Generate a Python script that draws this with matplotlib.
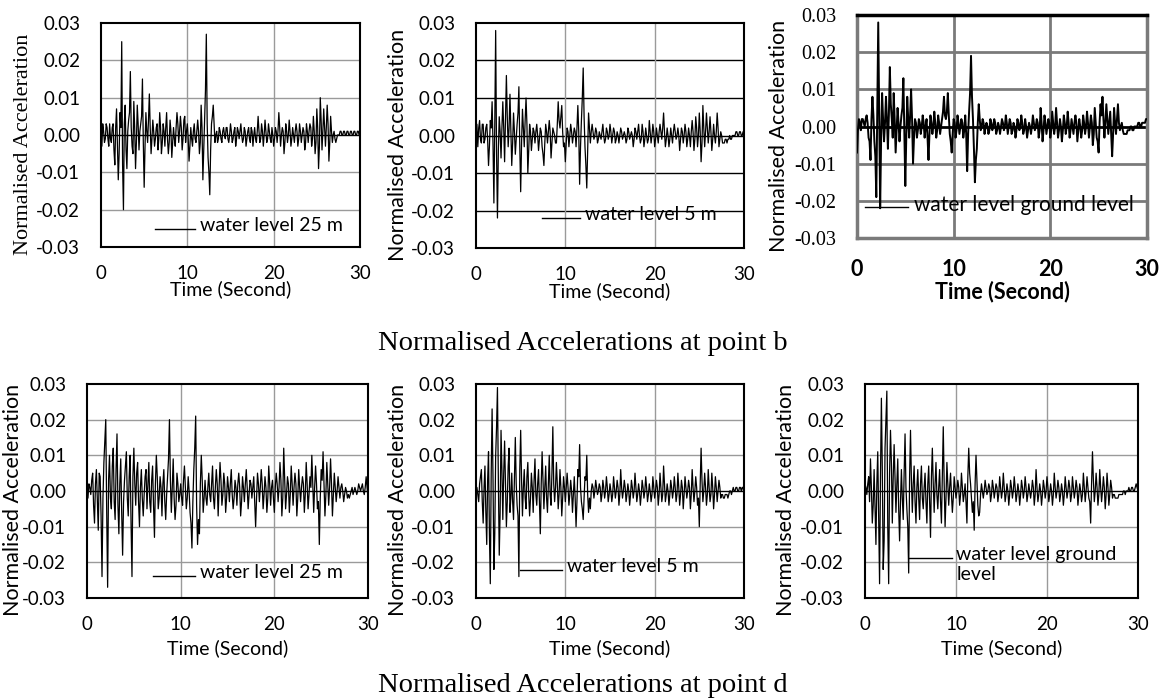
import numpy as np
import matplotlib
matplotlib.use("Agg")
import matplotlib.pyplot as plt

# Normalised accelerations, one value every 0.1 s (in units of 0.001)
dt = 0.1

# point b
acc_b_25 = [0, -3, 3, 1, -2, -1, 3, 2, -1, -3,
            3, -1, -2, 2, 3, -4, -8, 2, 7, -3,
            -12, -5, 6, 2, 25, -8, -20, 3, 8, -4,
            -9, 1, 4, 6, 17, 2, -3, -5, 9, 2,
            -9, -2, 8, 3, -4, 1, 3, 5, 15, -2,
            -14, -3, 6, 1, -2, 4, 11, 2, -5, -1,
            4, 1, -3, -1, 2, 3, -4, -1, 6, 2,
            -5, -2, 3, 1, -3, 2, 6, -1, -5, -2,
            4, 1, -6, -2, 2, -1, -3, 2, 6, 3,
            -2, 1, 5, 2, -4, -1, 4, 5, -2, 1,
            3, -1, -7, -3, 2, -1, -3, 1, 3, -1,
            -2, 1, 4, 1, -5, -2, 8, 2, -12, -4,
            4, 12, 27, 3, -6, -10, -16, -4, 3, 5,
            8, 3, -2, 0, 1, -2, -1, 2, 1, -1,
            -2, 1, 2, 0, -1, 2, 2, -1, -2, 0,
            3, 1, -2, -1, 1, 2, -3, -1, 2, 1,
            -1, 1, 3, 0, -2, -1, 2, 1, -3, -1,
            1, 2, -1, -2, 2, 1, -3, 0, 2, -1,
            -2, 1, 5, 1, -2, -1, 3, 1, -3, 0,
            4, 1, -2, -1, 3, 1, -1, -2, 2, 0,
            -3, -1, 2, 1, -2, 1, 6, 2, -3, 0,
            2, 1, -5, -2, 3, 1, -2, 0, 4, 1,
            -3, -1, 2, 0, -2, 1, 3, 1, -3, -1,
            3, 1, -2, 0, 2, 1, -4, -2, 3, 1,
            -2, 1, 3, 2, -3, -1, 5, 1, -5, -2,
            7, 2, -9, -3, 10, 4, -4, 1, 7, 2,
            -3, 2, 8, 3, -7, -2, 5, 1, -2, 0,
            1, -1, -2, -1, 0, 0, 0, 1, 1, 0,
            0, 1, 1, 0, 0, 1, 1, 0, 0, 1,
            1, 0, 0, 1, 1, 0, 0, 1, 1, 0,
            0]
acc_b_5 = [0, 3, -3, 2, 4, -1, -2, 3, 3, -2,
           -1, 2, 3, -1, -8, -3, 4, 2, 9, -2,
           -18, 3, 28, -5, -22, -4, 5, 1, -6, 2,
           9, 2, -7, 4, 16, 5, -3, 2, 11, 1,
           -8, -2, 6, 1, -5, -1, 3, 6, 13, -3,
           -15, -2, 7, 2, -3, 4, 10, 3, -10, -4,
           3, 1, -4, -1, 2, 1, -2, 1, 3, 0,
           -4, -1, 2, 1, -3, -5, -8, -2, 3, 1,
           -2, 1, 4, 1, -6, -2, 2, 1, 0, -2,
           -2, 3, 9, 4, 2, 5, 8, 1, -3, -2,
           -7, -2, 2, 1, -3, 0, 3, 1, -2, 0,
           2, 1, -3, 2, 8, 1, -13, -3, 4, 10,
           18, 5, -3, -8, -14, -4, 6, 2, -2, 1,
           3, 1, -1, 0, 2, 1, -2, -1, 1, 0,
           -1, 1, 3, 0, -2, -1, 2, 1, -1, 0,
           3, 1, -2, 0, 2, 1, -2, -1, 1, 0,
           -2, 0, 2, 1, -1, 0, 1, 0, -2, -1,
           2, 1, -1, 0, 1, 0, -3, -1, 2, 1,
           -1, 1, 3, 0, -2, -1, 3, 1, -3, -1,
           2, 0, -2, -1, 4, 1, -2, 0, 3, 1,
           -3, -1, 2, 0, -2, 1, 3, 1, -1, 2,
           6, 1, -3, -1, 2, 0, -3, -1, 2, 0,
           -2, 1, 3, 1, -1, 0, 2, 0, -4, -1,
           2, 1, -2, 0, 3, 1, -3, -1, 2, 0,
           -3, 1, 4, 1, -4, -1, 5, 2, -3, 0,
           6, 1, -7, -2, 8, 2, -3, 1, 6, 2,
           -2, 1, 5, 1, -4, -1, 3, 0, -2, 1,
           6, 2, -3, -1, 1, 0, -2, -2, -2, -1,
           -1, -2, -1, -1, 0, -1, -1, 0, 0, 0,
           0, 1, 1, 0, 0, 1, 1, 0, 0, 1,
           1]
acc_b_gl = [-7, -1, 2, 1, -1, 2, 2, 1, 0, 2,
            3, 1, -3, -4, -9, 2, 8, 3, -4, -8,
            -19, 5, 28, 3, -22, -3, 9, 2, -4, 1,
            8, 2, -6, 3, 16, 6, 2, -3, 9, 2,
            -7, -1, 5, 1, -4, 0, 3, 5, 13, -2,
            -16, -3, 8, 2, -3, 3, 10, 2, -10, -3,
            2, 1, -3, -1, 2, 1, -2, 0, 3, 1,
            -3, 0, 2, -3, -9, -2, 3, 1, -2, 0,
            4, 1, -3, -1, 3, 1, -2, 0, 2, 4,
            8, 3, 2, 4, 9, 3, -2, -4, -7, -2,
            2, 1, -3, -1, 3, 1, -2, 0, 2, 1,
            -3, -1, 3, -2, -12, -2, 4, 9, 19, 8,
            2, -6, -15, -9, -6, 1, 6, 2, -1, 0,
            2, 1, -2, 0, 1, 0, -2, -1, 2, 1,
            -1, 0, 2, 1, -2, -1, 1, 0, -2, 0,
            2, 1, -1, 0, 3, 1, -2, 0, 2, 1,
            -2, -1, 1, 0, -3, -1, 2, 1, -1, 0,
            3, 1, -2, -1, 2, 0, -3, -1, 1, 0,
            -2, 0, 3, 1, -1, 0, 2, 1, -3, -1,
            5, 1, -4, -1, 3, 1, -2, 0, 2, 1,
            -3, -1, 4, 1, -2, 0, 5, 1, -3, -1,
            2, 0, -4, -1, 3, 1, -2, 0, 4, 1,
            -3, -1, 2, 0, -2, 1, 3, 1, -4, -1,
            2, 0, -3, -1, 3, 1, -2, 0, 4, 1,
            -3, 0, 3, 1, -5, -2, 5, 1, -3, -4,
            -7, 1, 6, 3, 8, 2, -3, 1, 6, 2,
            -2, 1, 4, -2, -8, -2, 5, 1, -2, 2,
            6, 1, -1, 0, 1, -1, -2, -2, -2, -2,
            -1, -1, -1, 0, 0, -1, -1, 0, 0, 0,
            0, 1, 1, 0, 0, 1, 1, 1, 1, 2,
            2]

# point d
acc_d_25 = [0, -2, 2, 1, -1, 3, 5, -4, -9, 2,
            6, -3, -11, 5, 4, -7, -24, -2, 8, 14,
            20, -6, -27, 3, 10, -2, -5, 7, 12, -3,
            -8, 6, 16, -4, -12, 2, 9, -6, -18, -3,
            3, 7, 11, -2, -7, 4, 10, -9, -24, 4,
            12, 2, -4, 5, 8, -3, -10, 1, 6, -2,
            -7, -1, 4, 6, -5, 2, 8, -3, -6, 3,
            7, -4, -13, 2, 10, 4, -5, -2, 4, 1,
            -7, 2, 6, -3, -8, -1, 4, 9, 20, 3,
            -6, 1, 9, -2, -8, -4, 5, 2, -3, -1,
            2, -2, -4, 3, 7, 1, -5, -2, 4, 0,
            -6, -9, -16, -3, 6, 12, 21, -4, -15, -8,
            -12, 2, 10, 3, -6, -2, 3, -2, -4, 1,
            5, -1, -3, 2, 7, -2, -5, 1, 6, 2,
            -7, 1, 8, 3, -4, -1, 5, 2, -6, -2,
            4, 1, -3, 2, 6, -1, -5, -2, 3, 1,
            -4, 2, 5, 1, -7, -3, 4, 1, -3, 2,
            6, 1, -5, -1, 3, 2, -2, 1, 4, -3,
            -10, -2, 5, 2, -3, 1, 6, 2, -5, -1,
            4, 1, -6, -2, 7, 2, -4, 1, 3, -2,
            -6, 1, 5, 2, -3, 1, 8, 3, -7, -2,
            12, 3, -5, -1, 4, 2, -6, -1, 7, 2,
            -4, 1, 5, 2, -7, -2, 6, 1, -3, 1,
            4, 2, -6, -1, 8, 2, -5, -1, 4, 1,
            10, 2, -6, 1, 7, 2, -5, -3, -15, -2,
            6, 3, 11, 2, -7, -1, 8, 2, -4, 1,
            9, 2, -7, -1, 5, 1, -3, 0, 4, 1,
            -2, 1, 2, 0, -3, -1, 1, 0, -2, -1,
            -2, -1, 0, 1, -1, 0, 1, 0, -1, 0,
            2, 1, 0, 1, 2, 0, -1, 1, 4, 1,
            -2]
acc_d_5 = [0, 1, -1, -3, 2, 4, 6, -3, -9, 1,
           7, -6, -15, 3, 11, -12, -26, 5, 23, 4,
           -22, -12, 10, 18, 29, 3, -18, -6, 17, 6,
           -8, 5, 14, 2, -10, -3, 7, 12, -6, -2,
           5, -3, -8, 4, 15, 2, -4, -7, -24, 6,
           17, 3, -7, 1, 6, -2, -5, 4, 8, -1,
           -7, -2, 5, 1, -6, 3, 9, -1, -4, 2,
           6, -3, -12, 2, 11, 3, -5, 1, 7, -2,
           -6, 2, 10, -1, -4, 5, 18, 2, -3, 1,
           8, 2, -5, -1, 6, 1, -7, -2, 4, 1,
           -3, 1, 5, 1, -4, -1, 3, 0, -6, -1,
           4, -2, -10, -3, 6, 4, 13, 1, -3, -5,
           -8, -2, 4, 3, 10, -1, -6, -2, -5, 0,
           2, 1, -2, 0, 3, 1, -1, 0, 2, 1,
           -3, -1, 3, 1, -2, 0, 4, 1, -3, -1,
           2, 0, -3, -1, 4, 1, -2, 0, 3, 1,
           -4, -1, 6, 1, -2, 0, 3, 1, -3, -1,
           2, 0, -4, -1, 3, 1, -2, 0, 5, 1,
           -3, -1, 2, 0, -4, -1, 3, 1, -2, 0,
           4, 1, -3, -1, 2, 0, -3, -1, 4, 1,
           -2, 0, 3, 1, -4, -1, 5, 1, -3, -1,
           7, 2, -3, -1, 2, 0, -4, -1, 3, 1,
           -2, 0, 4, 1, -3, -1, 5, 1, -4, -1,
           3, 1, -5, -1, 4, 1, -2, 0, 3, 1,
           -5, -1, 6, 1, -3, 0, 4, 1, -4, -2,
           -10, 2, 12, 3, -3, 0, 5, 1, -4, -1,
           6, 1, -3, -1, 5, 1, -5, -1, 4, 1,
           -3, 0, 3, 1, -2, -1, -1, -2, -2, -1,
           -1, -1, -2, -1, 0, 0, -1, 0, 1, 0,
           0, 1, 1, 0, 0, 1, 1, 0, 1, 1,
           -1]
acc_d_gl = [2, 1, -1, 2, 4, -3, 9, 1, -9, -4,
            6, -5, -15, 2, 11, -8, -26, 4, 26, 6,
            -22, -14, 12, 20, 28, -10, -26, 5, 17, 8,
            -9, 4, 13, 3, -6, 2, 9, -5, -14, -3,
            6, -2, -8, 5, 16, 1, -5, -10, -23, 4,
            17, 3, -6, 2, 7, -3, -9, 1, 6, -2,
            -8, 2, 7, -2, -5, 1, 5, -3, -9, 2,
            7, -3, -13, 4, 12, 2, -6, 2, 8, -1,
            -5, 1, 6, -3, -9, 4, 18, 2, -10, -2,
            8, 2, -4, 1, 5, -1, -6, -2, 4, 1,
            -2, 0, 3, 1, -4, -1, 5, 1, -3, -1,
            2, -3, -9, 4, 12, 5, 2, -2, -6, -3,
            -11, 2, 10, 3, -4, -7, -6, -1, 2, 0,
            -2, 0, 3, 1, -1, 0, 2, 1, -3, -1,
            3, 1, -2, 0, 2, 1, -3, -1, 4, 1,
            -2, 0, 5, 1, -3, -1, 2, 0, -4, -1,
            3, 1, -2, 0, 4, 1, -3, -1, 2, 0,
            -4, -1, 3, 1, -2, 0, 4, 1, -3, -1,
            2, 0, -2, 0, 3, 1, -4, -1, 6, 1,
            -3, -1, 2, 0, -4, -1, 3, 1, -2, 0,
            4, 1, -3, -1, 2, 0, -4, -1, 5, 1,
            -2, 0, 3, 1, -3, -1, 2, 0, -4, -1,
            4, 1, -2, 0, 3, 1, -3, -1, 4, 1,
            -2, 0, 3, 1, -4, -1, 2, 0, -3, -1,
            5, 1, -3, 0, 4, 1, -2, -3, -9, 2,
            11, 3, -3, 0, 5, 1, -4, -1, 6, 1,
            -3, 0, 4, 1, -5, -1, 5, 1, -4, -1,
            3, 1, -2, -1, -1, -2, -2, -2, -2, -1,
            -1, -1, -1, -1, 0, 0, -1, 0, 0, 0,
            1, 0, 0, 1, 1, 0, 0, 1, 2, 1,
            0]

labels_b = ["water level 25 m", "water level 5 m", "water level ground level"]
labels_d = ["water level 25 m", "water level 5 m", "water level ground\nlevel"]
titles = ["Normalised Accelerations at point b", "Normalised Accelerations at point d"]
x_ticks = [0, 10, 20, 30]
y_ticks = [-0.03, -0.02, -0.01, 0.0, 0.01, 0.02, 0.03]

SANS = ["Lato", "DejaVu Sans"]
SERIF = ["Liberation Serif", "DejaVu Serif"]
GREY = "#9a9a9a"

fig = plt.figure(figsize=(11.65, 6.99), dpi=100)

# style of each of the six Excel charts (they were not all formatted the same)
styles = [
    dict(rect=[0.0867, 0.6466, 0.2223, 0.3205], ylab_font=SERIF, ylab_size=16, ylab_x=-0.301,
         ytick_font=SANS, xtick_bold=False, hgrid=GREY, vgrid=GREY, glw=1.0, frame="black",
         flw=1.5, lw=0.9, leg=(0.208, 0.363, 0.080), leg_size=14, xlab_y=-0.19),
    dict(rect=[0.4086, 0.6452, 0.2300, 0.3219], ylab_font=SANS, ylab_size=15.5, ylab_x=-0.29,
         ytick_font=SANS, xtick_bold=False, hgrid="black", vgrid=GREY, glw=1.0, frame="black",
         flw=1.5, lw=0.9, leg=(0.245, 0.388, 0.132), leg_size=14, xlab_y=-0.19),
    dict(rect=[0.7356, 0.6595, 0.2489, 0.3190], ylab_font=SANS, ylab_size=15.5, ylab_x=-0.268,
         ytick_font=SERIF, xtick_bold=True, hgrid="#7a7a7a", vgrid="#7a7a7a", glw=2.0, frame="#7a7a7a",
         flw=2.5, lw=1.4, leg=(0.028, 0.177, 0.138), leg_size=15, xlab_y=-0.24),
    dict(rect=[0.0747, 0.1445, 0.2412, 0.3062], ylab_font=SANS, ylab_size=15.5, ylab_x=-0.262,
         ytick_font=SANS, xtick_bold=False, hgrid=GREY, vgrid=GREY, glw=1.0, frame="black",
         flw=1.5, lw=0.9, leg=(0.234, 0.384, 0.103), leg_size=14, xlab_y=-0.234),
    dict(rect=[0.4086, 0.1445, 0.2300, 0.3062], ylab_font=SANS, ylab_size=15.5, ylab_x=-0.29,
         ytick_font=SANS, xtick_bold=False, hgrid=GREY, vgrid=GREY, glw=1.0, frame="black",
         flw=1.5, lw=0.9, leg=(0.164, 0.320, 0.131), leg_size=14, xlab_y=-0.234),
    dict(rect=[0.7425, 0.1445, 0.2343, 0.3062], ylab_font=SANS, ylab_size=15.5, ylab_x=-0.29,
         ytick_font=SANS, xtick_bold=False, hgrid=GREY, vgrid=GREY, glw=1.0, frame="black",
         flw=1.5, lw=0.9, leg=(0.162, 0.317, 0.186), leg_size=14, xlab_y=-0.234),
]

records = [acc_b_25, acc_b_5, acc_b_gl, acc_d_25, acc_d_5, acc_d_gl]
names = labels_b + labels_d

for acc, name, st in zip(records, names, styles):
    ax = fig.add_axes(st["rect"])
    t = np.arange(len(acc)) * dt
    y = np.array(acc) * 1e-3

    # gridlines + the black zero line (Excel category axis)
    for v in y_ticks[1:-1]:
        if v == 0:
            ax.axhline(v, color="black", lw=st["glw"], zorder=1)
        else:
            ax.axhline(v, color=st["hgrid"], lw=st["glw"], zorder=1)
    for v in x_ticks[1:-1]:
        ax.axvline(v, color=st["vgrid"], lw=st["glw"], zorder=1)

    ax.plot(t, y, color="black", lw=st["lw"], zorder=3)

    ax.set_xlim(0, 30)
    ax.set_ylim(-0.03, 0.03)
    ax.set_xticks(x_ticks)
    ax.set_yticks(y_ticks)
    ax.set_yticklabels([f"{v:.2f}" for v in y_ticks])
    ax.tick_params(length=0, pad=15, labelsize=13.5)
    ax.tick_params(axis="x", pad=13)
    for lab in ax.get_yticklabels():
        lab.set_fontfamily(st["ytick_font"])
        if st["ytick_font"] is SERIF:
            lab.set_fontsize(14.5)
    for lab in ax.get_xticklabels():
        lab.set_fontfamily(SANS)
        if st["xtick_bold"]:
            lab.set_fontweight("bold")
            lab.set_fontsize(15.5)
    if st["xtick_bold"]:
        ax.tick_params(axis="x", pad=15)

    for sp in ax.spines.values():
        sp.set_color(st["frame"])
        sp.set_linewidth(st["flw"])
    if st["xtick_bold"]:
        ax.spines["top"].set_color("black")

    ax.set_ylabel("Normalised Acceleration", fontfamily=st["ylab_font"],
                  fontsize=st["ylab_size"], va="center")
    ax.yaxis.set_label_coords(st["ylab_x"], 0.46)
    ax.set_xlabel("Time (Second)", fontfamily=SANS, va="center",
                  fontsize=15.5 if st["xtick_bold"] else 14,
                  fontweight="bold" if st["xtick_bold"] else "normal")
    ax.xaxis.set_label_coords(0.5, st["xlab_y"])

    # legend drawn the way Excel places it: short line + text inside the plot
    x0, x1, yl = st["leg"]
    ax.plot([x0, x1], [yl, yl], transform=ax.transAxes, color="black", lw=1.0, zorder=4)
    ax.text(x1 + 0.018, yl + 0.055, name, transform=ax.transAxes, va="top", ha="left",
            fontfamily=SANS, fontsize=st["leg_size"], zorder=4)

fig.text(0.5, 1 - 343 / 699, titles[0], ha="center", va="center", fontfamily=SERIF, fontsize=20.5)
fig.text(0.5, 1 - 686 / 699, titles[1], ha="center", va="center", fontfamily=SERIF, fontsize=20.5)

fig.savefig("out.png", dpi=100, facecolor="white")
